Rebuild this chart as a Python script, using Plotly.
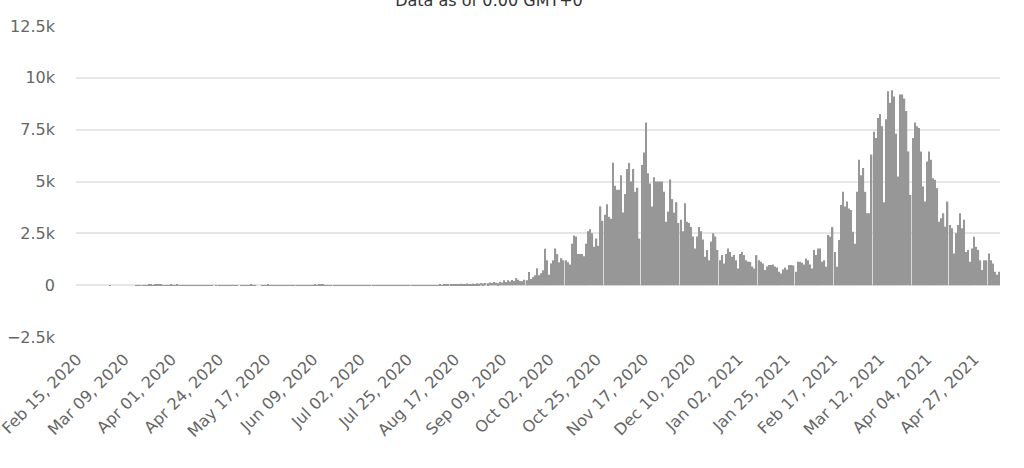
import pandas as pd
import plotly.graph_objects as go

start_date = "2020-02-15"

cases_2020_02 = [0] * 15
cases_2020_03 = [0, 1, 0, 0, 0, 0, 0, 0, 0, 0, 0, 0, 0, 0, 5, 4, 6, 3, 6, 7, 9, 12, 8, 20, 9, 40, 11, 6, 6, 4, 6]
cases_2020_04 = [10, 7, 6, 10, 2, 2, 3, 2, 2, 4, 6, 5, 4, 3, 2, 2, 1, 1, 4, 1, 1, 0, 1, 1, 1, 2, 3, 1, 1, 2]
cases_2020_05 = [3, 1, 1, 0, 2, 3, 4, 6, 3, 9, 1, 4, 0, 0, 6, 2, 4, 12, 3, 2, 2, 1, 3, 1, 2, 1, 1, 1, 1, 3, 3]
cases_2020_06 = [2, 6, 4, 7, 5, 3, 2, 1, 4, 10, 7, 40, 11, 9, 5, 4, 6, 3, 2, 4, 3, 2, 3, 1, 6, 4, 2, 2, 3, 1]
cases_2020_07 = [1, 2, 1, 4, 2, 1, 3, 1, 2, 5, 2, 1, 3, 2, 1, 4, 1, 2, 3, 1, -40, 2, 1, 1, 3, 2, 1, 2, 4, 3, 2]
cases_2020_08 = [2, 4, 3, 5, 3, 6, 7, 5, 6, 10, 7, 12, 9, 11, 45, 30, 60, 50, 40, 70, 55, 45, 80, 60, 50, 75, 60, 90, 70, 100, 80]
cases_2020_09 = [110, 90, 130, 100, 150, 120, 90, 160, 130, 240, 150, 240, 180, 250, 200, 340, 260, 200, 190, 260, 240, 630, 300, 390, 480, 820, 480, 580, 720, 1760]
cases_2020_10 = [1200, 500, 1050, 1200, 1770, 1500, 1100, 1300, 1200, 1200, 1100, 1000, 2000, 2400, 2350, 1500, 1500, 1500, 1400, 2000, 2600, 2700, 2500, 1850, 2250, 1900, 3800, 3100, 3400, 3900, 3300]
cases_2020_11 = [3200, 5900, 4800, 4600, 4600, 5300, 3500, 4400, 5600, 5900, 5000, 5600, 4500, 4700, 2250, 5800, 6400, 7850, 5400, 4900, 3800, 5200, 5000, 5000, 5000, 5000, 4500, 3060, 3550, 5100]
cases_2020_12 = [4150, 3500, 4000, 3000, 3150, 2600, 3950, 3060, 3000, 2800, 2350, 1770, 2350, 2800, 2600, 2200, 1370, 1700, 1200, 2100, 2500, 2350, 1700, 1200, 1450, 1050, 1500, 1770, 1600, 1370, 1450]
cases_2021_01 = [1200, 800, 1500, 1600, 1450, 1200, 1130, 1130, 900, 800, 1450, 1200, 1130, 1050, 730, 900, 970, 970, 1000, 900, 850, 650, 560, 760, 850, 750, 970, 970, 950, 650, 1130]
cases_2021_02 = [1130, 1080, 1000, 1290, 1200, 1000, 800, 1700, 1450, 1770, 1770, 1130, 1200, 890, 2420, 2340, 2800, 1600, 890, 2180, 3870, 4500, 3800, 4030, 3700, 3630, 2580, 2000]
cases_2021_03 = [4500, 6050, 5300, 5650, 4500, 3470, 3470, 6300, 7400, 7100, 8060, 8250, 7660, 4000, 8000, 9350, 8800, 9400, 9100, 7300, 5240, 9200, 9200, 9000, 8400, 6450, 4350, 7100, 7850, 7660, 7580]
cases_2021_04 = [6450, 4760, 4030, 5970, 6450, 6050, 5160, 5080, 4680, 3060, 3230, 3470, 2820, 4030, 2900, 2740, 1530, 2500, 2900, 3470, 2740, 3150, 1600, 1700, 1130, 1770, 2340, 1850, 1700, 1200]
cases_2021_05 = [730, 1200, 1200, 1530, 1200, 1050, 650, 500, 650]

tick_dates = ["2020-02-15", "2020-03-09", "2020-04-01", "2020-04-24", "2020-05-17",
              "2020-06-09", "2020-07-02", "2020-07-25", "2020-08-17", "2020-09-09",
              "2020-10-02", "2020-10-25", "2020-11-17", "2020-12-10", "2021-01-02",
              "2021-01-25", "2021-02-17", "2021-03-12", "2021-04-04", "2021-04-27"]
tick_labels = ["Feb 15, 2020", "Mar 09, 2020", "Apr 01, 2020", "Apr 24, 2020", "May 17, 2020",
               "Jun 09, 2020", "Jul 02, 2020", "Jul 25, 2020", "Aug 17, 2020", "Sep 09, 2020",
               "Oct 02, 2020", "Oct 25, 2020", "Nov 17, 2020", "Dec 10, 2020", "Jan 02, 2021",
               "Jan 25, 2021", "Feb 17, 2021", "Mar 12, 2021", "Apr 04, 2021", "Apr 27, 2021"]
y_ticks = [-2500, 0, 2500, 5000, 7500, 10000, 12500]
y_labels = ["−2.5k", "0", "2.5k", "5k", "7.5k", "10k", "12.5k"]

values = (cases_2020_02 + cases_2020_03 + cases_2020_04 + cases_2020_05 + cases_2020_06 +
          cases_2020_07 + cases_2020_08 + cases_2020_09 + cases_2020_10 + cases_2020_11 +
          cases_2020_12 + cases_2021_01 + cases_2021_02 + cases_2021_03 + cases_2021_04 +
          cases_2021_05)
dates = pd.date_range(start_date, periods=len(values), freq="D")

font_family = "DejaVu Sans, Open Sans, sans-serif"

fig = go.Figure(go.Bar(x=dates, y=values, marker=dict(color="#979797", line=dict(width=0))))

fig.update_layout(
    width=1024, height=468,
    margin=dict(l=76, r=24, t=26, b=131),
    paper_bgcolor="white", plot_bgcolor="white",
    bargap=0.33,
    showlegend=False,
    font=dict(family=font_family, color="#666666", size=16),
    title=dict(text="Data as of 0:00 GMT+0", x=489 / 1024, xanchor="center",
               y=0.999, yanchor="middle", yref="container",
               font=dict(family=font_family, size=16, color="#333333")),
)
fig.update_xaxes(
    type="date", automargin=False, ticklabeloverflow="allow",
    range=[dates[0] - pd.Timedelta(hours=12), dates[-1] + pd.Timedelta(hours=12)],
    tickmode="array", tickvals=tick_dates, ticktext=tick_labels,
    tickangle=-45, showgrid=False, zeroline=False, showline=False,
    ticks="", tickfont=dict(size=16, color="#666666"), ticklabelstandoff=9,
)
fig.update_yaxes(
    automargin=False,
    range=[-2500, 12500], tickmode="array", tickvals=y_ticks, ticktext=y_labels,
    showgrid=True, gridcolor="#e6e6e6", gridwidth=1.5, zeroline=False, showline=False,
    ticks="", tickfont=dict(size=16, color="#666666"), ticklabelstandoff=20,
)

fig.write_html("out.html", config={"displayModeBar": False},
               post_script="document.body.style.margin='0';document.body.style.overflow='hidden';")
